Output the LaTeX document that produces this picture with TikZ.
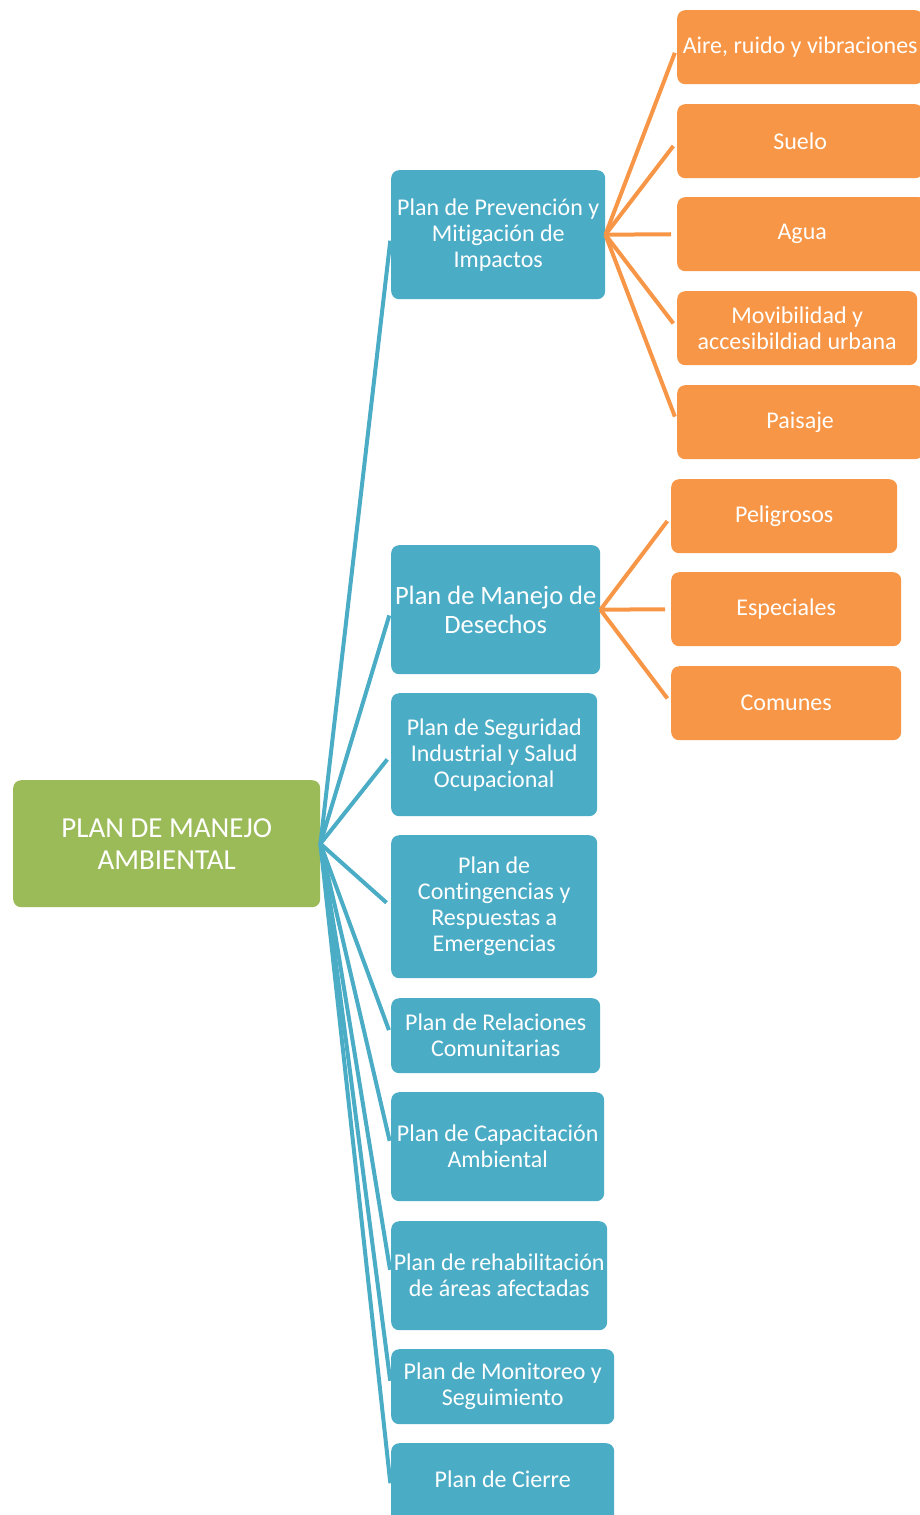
\documentclass[tikz,border=0pt]{standalone}
\usepackage{fontspec}
\setmainfont{Carlito}[Ligatures=NoCommon]
\definecolor{plangreen}{HTML}{9BBB59}
\definecolor{planblue}{HTML}{4BACC6}
\definecolor{planorange}{HTML}{F79646}
\tikzset{
  box/.style={rounded corners=8pt, text=white, align=center, inner sep=0pt, anchor=north west, font=\fontsize{24}{26}\selectfont},
  rootbox/.style={box, fill=plangreen, font=\fontsize{29}{32}\selectfont},
  planbox/.style={box, fill=planblue},
  topicbox/.style={box, fill=planorange, minimum height=74pt},
  bluelink/.style={draw=planblue, line width=4pt, shorten >=6pt},
  orangelink/.style={draw=planorange, line width=4pt, shorten >=6pt},
}

\begin{document}
\begin{tikzpicture}[x=1pt, y=-1pt]
  \useasboundingbox (0, 0) rectangle (920, 1515);
  \clip (0, 0) rectangle (920, 1515);

  \node[rootbox, minimum width=307pt, minimum height=127pt] (pma) at (13, 780) {PLAN DE MANEJO\\AMBIENTAL};

  % planes
  \node[planbox, minimum width=214pt, minimum height=129pt] (prevencion) at (391, 170) {Plan de Prevención y\\Mitigación de\\Impactos};
  \node[planbox, minimum width=209pt, minimum height=129pt, font=\fontsize{26.5}{29}\selectfont] (desechos) at (391, 545) {Plan de Manejo de\\Desechos};
  \node[planbox, minimum width=206pt, minimum height=123pt] (seguridad) at (391, 693) {Plan de Seguridad\\Industrial y Salud\\Ocupacional};
  \node[planbox, minimum width=206pt, minimum height=143pt] (contingencias) at (391, 835) {Plan de\\Contingencias y\\Respuestas a\\Emergencias};
  \node[planbox, minimum width=209pt, minimum height=75pt] (relaciones) at (391, 998) {Plan de Relaciones\\Comunitarias};
  \node[planbox, minimum width=213pt, minimum height=109pt] (capacitacion) at (391, 1092) {Plan de Capacitación\\Ambiental};
  \node[planbox, minimum width=216pt, minimum height=109pt] (rehabilitacion) at (391, 1221) {Plan de rehabilitación\\de áreas afectadas};
  \node[planbox, minimum width=223pt, minimum height=75pt] (monitoreo) at (391, 1349) {Plan de Monitoreo y\\Seguimiento};
  \node[planbox, minimum width=223pt, minimum height=82pt] (cierre) at (391, 1443) {\raisebox{11pt}{Plan de Cierre}};

  % componentes
  \node[topicbox, minimum width=246pt] (aire) at (677, 10) {Aire, ruido y vibraciones};
  \node[topicbox, minimum width=246pt] (suelo) at (677, 104) {Suelo};
  \node[topicbox, minimum width=250pt] (agua) at (677, 197) {Agua};
  \node[topicbox, minimum width=240pt] (movilidad) at (677, 291) {Movibilidad y\\accesibildiad urbana};
  \node[topicbox, minimum width=246pt] (paisaje) at (677, 385) {Paisaje};
  \node[topicbox, minimum width=226pt] (peligrosos) at (671, 479) {Peligrosos};
  \node[topicbox, minimum width=230pt] (especiales) at (671, 572) {Especiales};
  \node[topicbox, minimum width=230pt] (comunes) at (671, 666) {Comunes};

  \draw[bluelink] (pma.east) -- (prevencion.west);
  \draw[bluelink] (pma.east) -- (desechos.west);
  \draw[bluelink] (pma.east) -- (seguridad.west);
  \draw[bluelink] (pma.east) -- (contingencias.west);
  \draw[bluelink] (pma.east) -- (relaciones.west);
  \draw[bluelink] (pma.east) -- (capacitacion.west);
  \draw[bluelink] (pma.east) -- (rehabilitacion.west);
  \draw[bluelink] (pma.east) -- (monitoreo.west);
  \draw[bluelink] (pma.east) -- ([yshift=-5pt]cierre.west);

  \draw[orangelink] (prevencion.east) -- (aire.west);
  \draw[orangelink] (prevencion.east) -- (suelo.west);
  \draw[orangelink] (prevencion.east) -- (agua.west);
  \draw[orangelink] (prevencion.east) -- (movilidad.west);
  \draw[orangelink] (prevencion.east) -- (paisaje.west);
  \draw[orangelink] (desechos.east) -- (peligrosos.west);
  \draw[orangelink] (desechos.east) -- (especiales.west);
  \draw[orangelink] (desechos.east) -- (comunes.west);
\end{tikzpicture}
\end{document}
